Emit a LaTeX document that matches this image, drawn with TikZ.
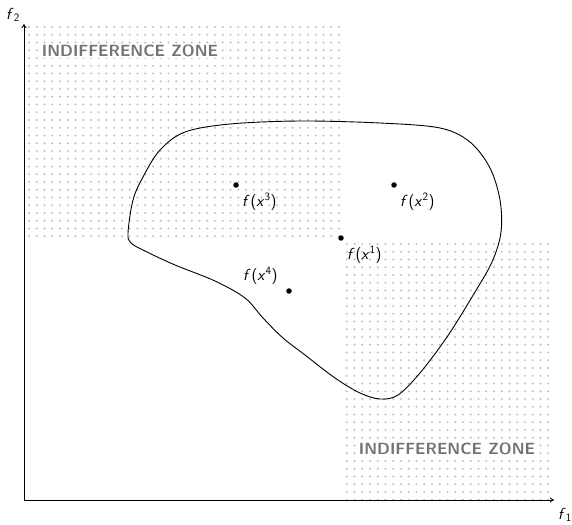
\documentclass[tikz,border=0pt]{standalone}
\usetikzlibrary{arrows.meta}
\tikzset{
  gdot/.style={fill=black!25},
  pt/.style={circle, fill=black, inner sep=0pt, minimum size=5.5pt},
  lbl/.style={font=\sffamily\fontsize{16}{18}\selectfont, inner sep=0pt},
  zone/.style={font=\sffamily\bfseries\fontsize{16.2}{19}\selectfont, text=black!55, fill=white, inner xsep=2pt, inner ysep=1pt},
  axis/.style={line width=0.9pt, -{To[length=4pt,width=5pt]}},
}
\newcommand{\fx}[1]{\textit{f}\kern0.8pt(\textit{x}\textsuperscript{#1})}
\begin{document}
\begin{tikzpicture}[x=1pt,y=-1pt]
\useasboundingbox (0,0) rectangle (572,524);
% dotted zones
\foreach \k in {0,...,40}{
  \foreach \j in {0,...,27}{
    \fill[gdot] ({29+7.75*\k},{27+7.75*\j}) circle (1.15);
  }
}
\foreach \k in {41,...,67}{
  \foreach \j in {28,...,61}{
    \fill[gdot] ({29+7.75*\k},{27+7.75*\j}) circle (1.15);
  }
}
% axes
\coordinate (o) at (24,500);
\coordinate (ytop) at (24,24);
\coordinate (xend) at (554,500);
\draw[axis] (o) -- (ytop);
\draw[axis] (o) -- (xend);
\node[lbl] (f2) at (13,15) {\textit{f}\textsubscript{2}};
\node[lbl] (f1) at (565,515) {\textit{f}\textsubscript{1}};
% zone labels
\node[zone] (z1) at (130,51) {INDIFFERENCE ZONE};
\node[zone] (z2) at (447,449) {INDIFFERENCE ZONE};
% feasible region
\draw[line width=0.9pt, black] plot[smooth cycle, tension=0.55] coordinates {
 (128,233) (133,200) (143,177) (160,150) (185,132) (230,124) (300,121)
 (380,123) (440,128) (470,142) (490,168) (500,200) (501,232) (492,262)
 (472,297) (447,337) (420,373) (398,395) (380,399) (360,393) (335,378)
 (305,355) (283,338) (263,318) (245,298) (215,281) (175,265) (145,251)
 (131,243)};
% points
\node[pt] (p3) at (236,185) {};
\node[pt] (p2) at (394,185) {};
\node[pt] (p1) at (341,238) {};
\node[pt] (p4) at (289,291) {};
\node[lbl, anchor=west] (l3) at (242,202) {\fx{3}};
\node[lbl, anchor=west] (l2) at (400,202) {\fx{2}};
\node[lbl, anchor=west] (l1) at (347,255) {\fx{1}};
\node[lbl, anchor=west] (l4) at (243,276) {\fx{4}};
\end{tikzpicture}
\end{document}
